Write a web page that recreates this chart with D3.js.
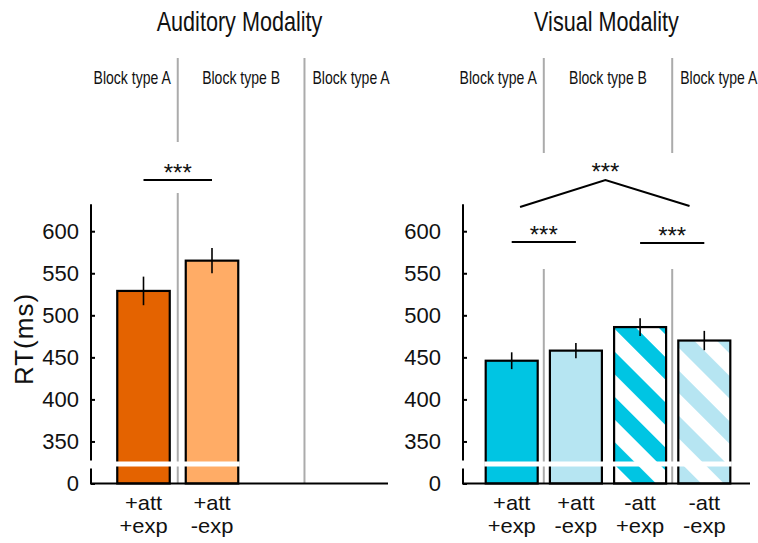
<!DOCTYPE html>
<html>
<head>
<meta charset="utf-8">
<script src="https://cdn.jsdelivr.net/npm/d3@7/dist/d3.min.js"></script>
<style>
  body { margin: 0; background: #fff; }
  svg { display: block; }
</style>
</head>
<body>
<svg id="chart" width="758" height="543"></svg>
<script>
// Mean reaction times (ms) with error bars, per condition
const audCategories = [["+att", "+exp"], ["+att", "-exp"]];
const audRT = [529, 565];
const audErr = [17, 15];

const visCategories = [["+att", "+exp"], ["+att", "-exp"], ["-att", "+exp"], ["-att", "-exp"]];
const visRT = [446, 458, 486, 470];
const visErr = [10, 9, 10.5, 11.5];

// Axis is broken: the bottom tick stands for 0
const yTickValues = [300, 350, 400, 450, 500, 550, 600];
const yTickLabels = ["0", "350", "400", "450", "500", "550", "600"];

const titles = ["Auditory Modality", "Visual Modality"];
const blockLabels = ["Block type A", "Block type B", "Block type A"];
const sigLabel = "***";

const C = {
  audDark: "#e46300",
  audLight: "#ffac66",
  visDark: "#00c5e3",
  visLight: "#b6e5f2",
  sep: "#ababab",
  ink: "#111"
};

const svg = d3.select("#chart");
const defs = svg.append("defs");

// Diagonal stripe fills for the "-att" conditions
function stripes(id, color) {
  const s = 32;
  const p = defs.append("pattern")
    .attr("id", id)
    .attr("patternUnits", "userSpaceOnUse")
    .attr("width", s).attr("height", s)
    .attr("patternTransform", "rotate(45) translate(0,6)");
  p.append("rect").attr("width", s).attr("height", s).attr("fill", "#fff");
  p.append("rect").attr("width", s).attr("height", s / 2).attr("fill", color);
}
stripes("hatchDark", C.visDark);
stripes("hatchLight", C.visLight);

const y = d3.scaleLinear().domain([300, 632]).range([483.5, 204.3]);
const base = y(300);

const panels = [
  {
    title: titles[0],
    cats: audCategories, rt: audRT, err: audErr,
    fills: [C.audDark, C.audLight],
    axisX: 91, axisEnd: 388,
    slot: d3.scaleLinear().domain([0, 1]).range([143.5, 212]),
    barW: 52.5,
    tickPad: 12,
    seps: [{ at: 0.5, gap: [142, 193] }, { at: 2.35, gap: null }],
    pairs: [{ a: 0, b: 1, y: 180 }],
    topSig: null
  },
  {
    title: titles[1],
    cats: visCategories, rt: visRT, err: visErr,
    fills: [C.visDark, C.visLight, "url(#hatchDark)", "url(#hatchLight)"],
    axisX: 463, axisEnd: 750,
    slot: d3.scaleLinear().domain([0, 3]).range([511.7, 704.3]),
    barW: 52,
    tickPad: 22,
    seps: [{ at: 0.5, gap: [153, 269] }, { at: 2.5, gap: [153, 269] }],
    pairs: [{ a: 0, b: 1, y: 242 }, { a: 2, b: 3, y: 243 }],
    topSig: { from: 0.13, apex: 1.46, to: 2.77, yEnd: 207, yApex: 180 }
  }
];

const font = "'Liberation Sans', Arial, sans-serif";

panels.forEach(P => {
  const g = svg.append("g");
  const n = P.rt.length;
  const center = (P.axisX + P.axisEnd) / 2;

  // title (condensed)
  g.append("text")
    .attr("transform", `translate(${center},31) scale(0.8,1)`)
    .attr("text-anchor", "middle")
    .attr("font-family", font).attr("font-size", 27)
    .attr("fill", C.ink)
    .text(P.title);

  // block separators
  const sepX = P.seps.map(s => P.slot(s.at));
  P.seps.forEach((s, i) => {
    const x = sepX[i];
    const segs = s.gap ? [[58, s.gap[0]], [s.gap[1], base]] : [[58, base]];
    segs.forEach(([y0, y1]) => {
      g.append("line")
        .attr("x1", x).attr("x2", x).attr("y1", y0).attr("y2", y1)
        .attr("stroke", C.sep).attr("stroke-width", 2);
    });
  });

  // block labels
  const labelY = 84;
  const blk = [
    { x: sepX[0] - 7, anchor: "end" },
    { x: (sepX[0] + sepX[1]) / 2, anchor: "middle" },
    { x: sepX[1] + 8, anchor: "start" }
  ];
  blk.forEach((b, i) => {
    const t = g.append("g").attr("transform", `translate(${b.x},${labelY}) scale(0.78,1)`);
    t.append("text")
      .attr("text-anchor", b.anchor)
      .attr("font-family", font).attr("font-size", 18)
      .attr("fill", C.ink)
      .text(blockLabels[i]);
  });

  // bars
  const bars = g.append("g");
  P.rt.forEach((v, i) => {
    const cx = P.slot(i);
    bars.append("rect")
      .attr("x", cx - P.barW / 2)
      .attr("y", y(v))
      .attr("width", P.barW)
      .attr("height", base - y(v))
      .attr("fill", P.fills[i])
      .attr("stroke", "#000").attr("stroke-width", 2.2);
    bars.append("line")
      .attr("x1", cx).attr("x2", cx)
      .attr("y1", y(v + P.err[i])).attr("y2", y(v - P.err[i]))
      .attr("stroke", "#000").attr("stroke-width", 1.6);
  });

  // axis break band across the bars
  const left = P.slot(0) - P.barW / 2 - 1.5;
  const right = P.slot(n - 1) + P.barW / 2 + 1.5;
  g.append("rect")
    .attr("x", left).attr("y", base - 22)
    .attr("width", right - left).attr("height", 5)
    .attr("fill", "#fff");

  // y axis
  const axis = d3.axisLeft(y)
    .tickValues(yTickValues)
    .tickFormat((d, i) => yTickLabels[i])
    .tickSizeInner(-4).tickSizeOuter(0)
    .tickPadding(P.tickPad);
  const ax = g.append("g").attr("transform", `translate(${P.axisX},0)`).call(axis);
  ax.select(".domain").remove();
  ax.selectAll(".tick line").attr("stroke", "#000").attr("stroke-width", 2);
  ax.selectAll(".tick text")
    .attr("font-family", font).attr("font-size", 22).attr("fill", C.ink);
  // axis spine with a gap at the break
  [[y.range()[1], base - 23], [base - 15, base]].forEach(([y0, y1]) => {
    g.append("line")
      .attr("x1", P.axisX).attr("x2", P.axisX).attr("y1", y0).attr("y2", y1)
      .attr("stroke", "#000").attr("stroke-width", 2);
  });
  // x baseline
  g.append("line")
    .attr("x1", P.axisX - 1).attr("x2", P.axisEnd)
    .attr("y1", base).attr("y2", base)
    .attr("stroke", "#000").attr("stroke-width", 2);

  // category labels, two lines each
  P.cats.forEach((lines, i) => {
    lines.forEach((s, k) => {
      g.append("text")
        .attr("transform", `translate(${P.slot(i)},${509.5 + k * 23}) scale(1.07,1)`)
        .attr("text-anchor", "middle")
        .attr("font-family", font).attr("font-size", 20.5)
        .attr("fill", C.ink)
        .text(s);
    });
  });

  // significance brackets
  const star = (x, cy) => g.append("text")
    .attr("x", x).attr("y", cy + 13.5)
    .attr("text-anchor", "middle")
    .attr("font-family", font).attr("font-size", 24)
    .attr("fill", C.ink)
    .text(sigLabel);
  P.pairs.forEach(p => {
    const x0 = P.slot(p.a), x1 = P.slot(p.b);
    g.append("line")
      .attr("x1", x0).attr("x2", x1).attr("y1", p.y).attr("y2", p.y)
      .attr("stroke", "#000").attr("stroke-width", 2);
    star((x0 + x1) / 2, p.y - 13);
  });
  if (P.topSig) {
    const s = P.topSig;
    g.append("path")
      .attr("d", d3.line()([
        [P.slot(s.from), s.yEnd],
        [P.slot(s.apex), s.yApex],
        [P.slot(s.to), s.yEnd - 1]
      ]))
      .attr("fill", "none").attr("stroke", "#000").attr("stroke-width", 2);
    star(P.slot(s.apex), s.yApex - 14);
  }
});

// y axis title
svg.append("text")
  .attr("transform", `translate(33,339) rotate(-90)`)
  .attr("text-anchor", "middle")
  .attr("font-family", font).attr("font-size", 26)
  .attr("letter-spacing", 1)
  .attr("fill", C.ink)
  .text("RT(ms)");
</script>
</body>
</html>
